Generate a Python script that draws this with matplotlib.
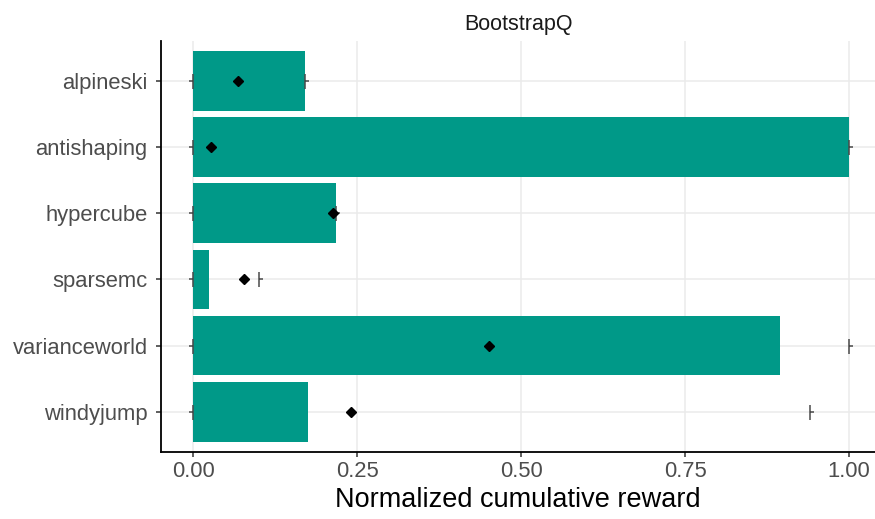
import matplotlib
matplotlib.use("Agg")
import matplotlib.pyplot as plt
from matplotlib.path import Path
import numpy as np

plt.rcParams['font.family'] = ['Liberation Sans', 'DejaVu Sans']

categories = ["alpineski", "antishaping", "hypercube", "sparsemc", "varianceworld", "windyjump"]
bar_values = [0.171, 1.0, 0.218, 0.024, 0.895, 0.175]
mean_values = [0.068, 0.027, 0.213, 0.077, 0.451, 0.241]
lower_values = [0.0, 0.0, 0.0, 0.0, 0.0, 0.0]
upper_values = [0.171, 1.0, 0.218, 0.101, 1.0, 0.941]
x_ticks = [0.0, 0.25, 0.5, 0.75, 1.0]
x_tick_labels = ["0.00", "0.25", "0.50", "0.75", "1.00"]
title = "BootstrapQ"
xlabel = "Normalized cumulative reward"

W, H = 875, 519
fig = plt.figure(figsize=(W / 100, H / 100), dpi=100)
ax = fig.add_axes([161 / W, (H - 451.5) / H, (875 - 161) / W, (451.5 - 41) / H])

y = np.arange(len(categories))

ax.barh(y, bar_values, height=0.9, color="#009988", zorder=2)

left_cap = Path([(0, -1), (0, 1), (0, 0), (-0.5, 0)],
                [Path.MOVETO, Path.LINETO, Path.MOVETO, Path.LINETO])
right_cap = Path([(0, -1), (0, 1), (0, 0), (0.5, 0)],
                 [Path.MOVETO, Path.LINETO, Path.MOVETO, Path.LINETO])

ax.plot(lower_values, y, linestyle="none", marker=left_cap, markersize=10.8,
        markeredgecolor="#4a4a4a", markeredgewidth=1.1, zorder=3)
ax.plot(upper_values, y, linestyle="none", marker=right_cap, markersize=10.8,
        markeredgecolor="#4a4a4a", markeredgewidth=1.1, zorder=3)
ax.plot(mean_values, y, linestyle="none", marker="D", markersize=4.6,
        color="black", zorder=4)

ax.set_xlim(-0.0488, 1.0396)
ax.set_ylim(len(categories) - 0.4, -0.6)
ax.set_yticks(y)
ax.set_yticklabels(categories)
ax.set_xticks(x_ticks)
ax.set_xticklabels(x_tick_labels)

ax.grid(True, color="#EBEBEB", linewidth=1.1, zorder=0)
ax.set_axisbelow(True)

for s in ["top", "right"]:
    ax.spines[s].set_visible(False)
for s in ["left", "bottom"]:
    ax.spines[s].set_color("black")
    ax.spines[s].set_linewidth(1.3)

ax.tick_params(axis="both", colors="#333333", length=3.6, width=1.1,
               labelsize=15.8, labelcolor="#4D4D4D")
ax.tick_params(axis="y", pad=6)
ax.tick_params(axis="x", pad=3)

ax.set_title(title, fontsize=15.5, color="#1A1A1A", pad=8)
ax.set_xlabel(xlabel, fontsize=19.5, color="black", labelpad=4)

fig.savefig("out.png", dpi=100)
